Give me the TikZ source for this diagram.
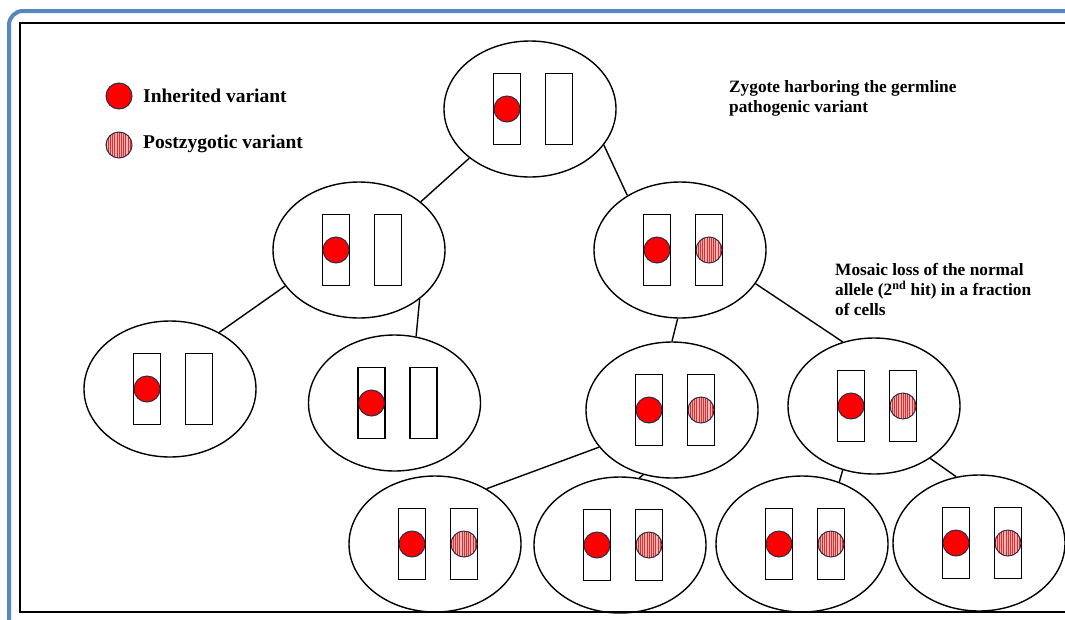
\documentclass[tikz,border=0pt]{standalone}
\usepackage{fontspec}
\setmainfont{Liberation Serif}
\usetikzlibrary{shapes.geometric}
\definecolor{framebl}{RGB}{86,135,190}
\definecolor{hatchbg}{RGB}{246,182,182}
\definecolor{hatchln}{RGB}{235,40,40}
\definecolor{dotedge}{RGB}{45,45,70}
\tikzset{
  cellbody/.style={ellipse, draw, line width=1.4pt, minimum width=172pt, minimum height=136pt, inner sep=0pt},
  chrom/.style={rectangle, draw, line width=1.4pt, fill=white, minimum width=27pt, minimum height=71pt, inner sep=0pt},
  inh/.style={circle, draw=dotedge, line width=1pt, fill=red, minimum size=26pt, inner sep=0pt},
  postz/.style={circle, draw=dotedge, line width=1pt, fill=hatchbg, minimum size=26pt, inner sep=0pt,
    path picture={\foreach \k in {-6,...,6}{\draw[hatchln, line width=0.5pt]
      ([xshift=\k*2.2pt]path picture bounding box.south) -- ([xshift=\k*2.2pt]path picture bounding box.north);}}},
  link/.style={line width=1.4pt},
  lbl/.style={font=\bfseries\fontsize{17.3}{20}\selectfont, align=left, anchor=north west, inner sep=0pt},
  legend/.style={font=\bfseries\fontsize{19.5}{23}\selectfont, anchor=base west, inner sep=0pt}
}
% a cell: ellipse with two chromosomes, the first one carrying the inherited variant
\newcommand\oneallele[3]{%
  \node[cellbody] (#1) at (#2,#3) {};
  \node[chrom] (#1a) at (#2-23,#3) {};
  \node[chrom] (#1b) at (#2+29,#3) {};
  \node[inh] (#1v) at (#1a) {};
}
% a cell that also carries the postzygotic variant on the second chromosome
\newcommand\twoallele[3]{%
  \oneallele{#1}{#2}{#3}
  \node[postz] (#1w) at (#1b) {};
}
\begin{document}
\begin{tikzpicture}[x=1pt,y=-1pt]
\useasboundingbox (0,0) rectangle (1065,619);
\clip (0,0) rectangle (1065,619);
\fill[white] (0,0) rectangle (1065,619);
% frames
\draw[framebl, line width=4pt, rounded corners=14pt] (9,11) rectangle (1120,680);
\draw[line width=1.5pt] (20,23) rectangle (1100,612);

% legend
\node[inh] (k1) at (119,96) {};
\node[postz] (k2) at (119,145) {};
\node[legend] (k1t) at (143,102) {Inherited variant};
\node[legend] (k2t) at (143,148) {Postzygotic variant};

% cells of the lineage
\oneallele{top}{530}{109}
\oneallele{ml}{359}{250}
\twoallele{mr}{680}{250}
\oneallele{la}{170}{389}
\oneallele{lb}{394.5}{403}
\twoallele{mc}{672}{410}
\twoallele{rc}{874}{406}
\twoallele{ba}{435}{544}
\twoallele{bb}{620}{545}
\twoallele{bc}{802}{544}
\twoallele{bd}{979}{543}

% divisions
\draw[link] (top.-141.7) -- (ml.38.2);
\draw[link] (top.-26.3) -- (mr.134.5);
\draw[link] (ml.-154.1) -- (la.49.4);
\draw[link] (ml.-39.2) -- (lb.72);
\draw[link] (mr.-92) -- (mc.90);
\draw[link] (mr.-24.4) -- (rc.116.2);
\draw[link] (mc.-153.7) -- (ba.47.1);
\draw[link] (mc.-114) -- (bb.74);
\draw[link] (rc.-116.2) -- (bc.59.9);
\draw[link] (rc.-43.9) -- (bd.109.3);

% annotations
\node[lbl] (zt) at (729,80.3) {Zygote harboring the germline\\pathogenic variant};
\node[lbl] (mt) at (835,263.3) {Mosaic loss of the normal\\allele (2\textsuperscript{nd} hit) in a fraction\\of cells};
\end{tikzpicture}
\end{document}
